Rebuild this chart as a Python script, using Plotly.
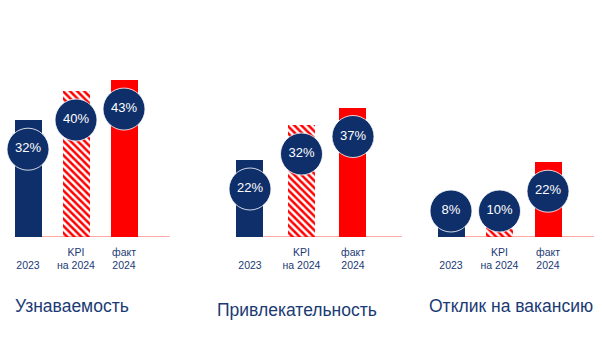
import plotly.graph_objects as go

categories = ["2023", "KPI<br>на 2024", "факт<br>2024"]
group_titles = ["Узнаваемость", "Привлекательность", "Отклик на вакансию"]
val_recognition = [32, 40, 43]
val_attractiveness = [22, 32, 37]
val_response = [8, 10, 22]
series = [val_recognition, val_attractiveness, val_response]

W, H = 602, 353
NAVY = "#0f2f6b"
RED = "#ff0000"
TXT = "#1a3a74"
BASE_PX = 237  # baseline pixel from top

# layout per group: first bar center px, spacing px, px per unit
group_geom = [(28, 48, 3.65), (250, 51.5, 3.5), (451, 48.5, 3.4)]
title_pos = [(13, 306), (215, 310), (427, 306)]

fig = go.Figure()
tick_text = ["<br>" + categories[0]] + categories[1:]

for i, (vals, (cx0, sp, scale)) in enumerate(zip(series, group_geom)):
    sfx = "" if i == 0 else str(i + 1)
    xa, ya = "x" + sfx, "y" + sfx
    x_idx = list(range(len(categories)))
    fig.add_trace(go.Bar(
        x=x_idx, y=vals, xaxis=xa, yaxis=ya, width=27 / sp,
        marker=dict(
            color=[NAVY, RED, RED], line=dict(width=0),
            pattern=dict(shape=["", "\\", ""], fillmode="replace",
                         bgcolor="white", size=5, solidity=0.5),
        ),
        hoverinfo="skip", showlegend=False,
    ))
    cy = [max(v - 29 / scale, 26 / scale) for v in vals]
    fig.add_trace(go.Scatter(
        x=x_idx, y=cy, xaxis=xa, yaxis=ya, mode="markers+text",
        marker=dict(size=42, color=NAVY, line=dict(color="rgba(255,255,255,0.8)", width=1)),
        text=[f"{v}%" for v in vals], textposition="middle center",
        textfont=dict(color="white", size=13, family="Liberation Sans, Arial"),
        hoverinfo="skip", showlegend=False, cliponaxis=False,
    ))
    left = cx0 - 0.5 * sp
    right = cx0 + 2.5 * sp + 0.5 * sp
    dom_x = [left / W, right / W]
    ymax = 60
    y0 = (H - BASE_PX) / H
    y1 = (H - BASE_PX + ymax * scale) / H
    fig.layout[("xaxis" + sfx)] = dict(
        domain=dom_x, range=[-0.5, 3], anchor=ya, showgrid=False, zeroline=False,
        showline=False, tickmode="array", tickvals=x_idx, ticktext=tick_text,
        tickfont=dict(color=TXT, size=10.5, family="Liberation Sans, Arial"), ticks="", ticklen=0,
        ticklabelstandoff=7,
    )
    fig.layout[("yaxis" + sfx)] = dict(
        domain=[y0, y1], range=[0, ymax], anchor=xa, visible=False, showgrid=False, zeroline=False,
    )
    # red baseline
    fig.add_shape(type="line", xref=xa, yref=ya, x0=0.5 * 27 / sp, x1=2.95, y0=0, y1=0,
                  line=dict(color="#ff5050", width=1), layer="below")
    tx, ty = title_pos[i]
    fig.add_annotation(xref="paper", yref="paper", x=tx / W, y=1 - ty / H, xanchor="left", yanchor="middle",
                       text=group_titles[i], showarrow=False,
                       font=dict(color=TXT, size=17.5, family="Liberation Sans, Arial"))

fig.update_layout(width=W, height=H, margin=dict(l=0, r=0, t=0, b=0),
                  paper_bgcolor="white", plot_bgcolor="white", bargap=0)
fig.write_html("out.html")
